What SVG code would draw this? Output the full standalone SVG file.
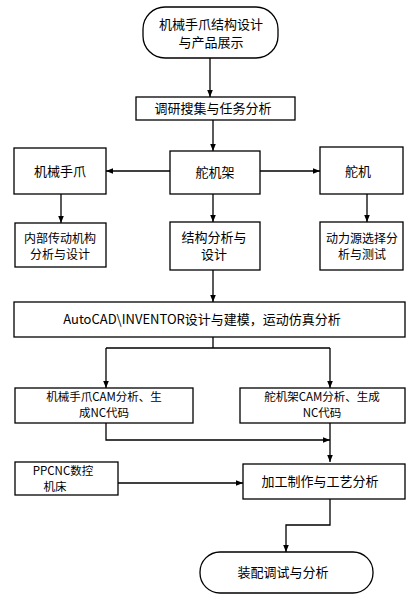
<svg xmlns="http://www.w3.org/2000/svg" width="408" height="595" viewBox="0 0 408 595">
<style>
.b{fill:#fff;stroke:#000;stroke-width:1.3}
.t{font-family:"Noto Sans CJK SC","Liberation Sans",sans-serif;font-size:13px;fill:#000;text-anchor:middle}
.s{font-size:12px}
.x{font-size:11.5px}
.c{fill:none;stroke:#000;stroke-width:1.3}
</style>
<defs>
<marker id="a" viewBox="0 0 10 10" refX="10" refY="5" markerWidth="7" markerHeight="7" markerUnits="userSpaceOnUse" orient="auto">
<path d="M0,1 L10,5 L0,9 z" fill="#000"/>
</marker>
</defs>
<rect width="408" height="595" fill="#fff"/>
<g id="connectors">
<path class="c" d="M210,58 V97" marker-end="url(#a)"/>
<path class="c" d="M213,120 V151" marker-end="url(#a)"/>
<path class="c" d="M170,171 H106" marker-end="url(#a)"/>
<path class="c" d="M260,171 H320" marker-end="url(#a)"/>
<path class="c" d="M61,194 V223" marker-end="url(#a)"/>
<path class="c" d="M213,194 V222" marker-end="url(#a)"/>
<path class="c" d="M367,194 V222" marker-end="url(#a)"/>
<path class="c" d="M213,270 V302" marker-end="url(#a)"/>
<path class="c" d="M213,337 V348 M106,348 H330"/>
<path class="c" d="M106,348 V388" marker-end="url(#a)"/>
<path class="c" d="M330,348 V388" marker-end="url(#a)"/>
<path class="c" d="M106,423 V440 H330" marker-end="url(#a)"/>
<path class="c" d="M330,423 V462" marker-end="url(#a)"/>
<path class="c" d="M118,483 H243" marker-end="url(#a)"/>
<path class="c" d="M330,499 V525 H286 V552" marker-end="url(#a)"/>
</g>
<g id="start">
<rect class="b" x="143" y="7" width="135" height="51" rx="22"/>
<text class="t" x="211" y="29">机械手爪结构设计</text>
<text class="t" x="211" y="47">与产品展示</text>
</g>
<g id="research">
<rect class="b" x="136" y="97" width="159" height="23"/>
<text class="t" x="213" y="113">调研搜集与任务分析</text>
</g>
<g id="gripper">
<rect class="b" x="14" y="148" width="92" height="46"/>
<text class="t" x="60" y="176">机械手爪</text>
</g>
<g id="bracket">
<rect class="b" x="170" y="151" width="90" height="43"/>
<text class="t" x="215" y="177">舵机架</text>
</g>
<g id="servo">
<rect class="b" x="320" y="147" width="83" height="47"/>
<text class="t" x="358" y="176">舵机</text>
</g>
<g id="inner">
<rect class="b" x="15" y="223" width="91" height="44"/>
<text class="t s" x="60" y="243">内部传动机构</text>
<text class="t s" x="60" y="259">分析与设计</text>
</g>
<g id="structure">
<rect class="b" x="170" y="222" width="90" height="48"/>
<text class="t" x="214" y="241.5">结构分析与</text>
<text class="t" x="214" y="259">设计</text>
</g>
<g id="drive">
<rect class="b" x="320" y="222" width="83" height="48"/>
<text class="t s" x="362" y="243">动力源选择分</text>
<text class="t s" x="362" y="259">析与测试</text>
</g>
<g id="cad">
<rect class="b" x="14" y="302" width="391" height="35"/>
<text class="t" x="202" y="324">AutoCAD\INVENTOR设计与建模，运动仿真分析</text>
</g>
<g id="camgripper">
<rect class="b" x="15" y="388" width="178" height="35"/>
<text class="t x" x="104" y="400.5">机械手爪CAM分析、生</text>
<text class="t x" x="104" y="416.5">成NC代码</text>
</g>
<g id="cambracket">
<rect class="b" x="240" y="388" width="165" height="35"/>
<text class="t x" x="322" y="400.5">舵机架CAM分析、生成</text>
<text class="t x" x="322" y="416.5">NC代码</text>
</g>
<g id="ppcnc">
<rect class="b" x="15" y="462" width="103" height="33"/>
<text class="t x" x="63" y="475">PPCNC数控</text>
<text class="t x" x="55" y="491">机床</text>
</g>
<g id="machining">
<rect class="b" x="243" y="464" width="162" height="35"/>
<text class="t" x="320" y="486">加工制作与工艺分析</text>
</g>
<g id="end">
<rect class="b" x="200" y="552" width="173" height="41" rx="20"/>
<text class="t" x="283" y="577">装配调试与分析</text>
</g>
</svg>
